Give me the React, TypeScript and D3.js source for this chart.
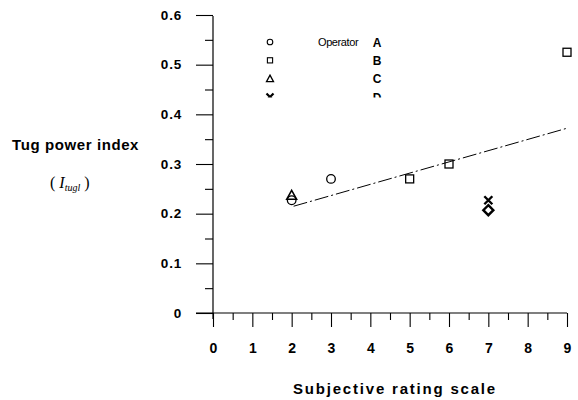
import { useRef, useEffect } from "react";
import * as d3 from "d3";

// readings per operator (subjective rating, tug power index)
const operatorA = [
  { x: 2, y: 0.227 },
  { x: 3, y: 0.27 },
];
const operatorB = [
  { x: 5, y: 0.27 },
  { x: 6, y: 0.3 },
  { x: 9, y: 0.525 },
];
const operatorC = [{ x: 2, y: 0.237 }];
const operatorDCross = [{ x: 7, y: 0.227 }];
const operatorDDiamond = [{ x: 7, y: 0.207 }];

const trendX = [2.05, 9];
const trendY = [0.215, 0.372];

const legendLabels = ["A", "B", "C", "D"];
const xTicks = [0, 1, 2, 3, 4, 5, 6, 7, 8, 9];
const yTicks = [0, 0.1, 0.2, 0.3, 0.4, 0.5, 0.6];

const W = 578;
const H = 400;
const FONT = "'Liberation Sans', Arial, sans-serif";

export default function App() {
  const svgRef = useRef<SVGSVGElement>(null);

  useEffect(() => {
    if (!svgRef.current) return;
    const svg = d3.select(svgRef.current);
    svg.selectAll("*").remove();

    const x = d3.scaleLinear().domain([0, 9]).range([213, 567]);
    const y = d3.scaleLinear().domain([0, 0.6]).range([313, 15]);

    // x axis: major ticks on integers, minor on halves
    const xMinor = d3.range(0, 9.01, 0.5).filter((v) => v % 1 !== 0);
    svg.append("g")
      .attr("transform", `translate(0,${y(0)})`)
      .call(d3.axisBottom(x).tickValues(xMinor).tickSize(7).tickFormat(() => ""))
      .call((g) => g.select(".domain").remove());
    svg.append("g")
      .attr("transform", `translate(0,${y(0)})`)
      .call(d3.axisBottom(x).tickValues(xTicks).tickSize(14).tickPadding(16).tickFormat(d3.format("d")))
      .call((g) => g.select(".domain").remove())
      .call((g) =>
        g.selectAll("text")
          .attr("font-family", FONT)
          .attr("font-weight", "bold")
          .attr("font-size", 14)
          .attr("fill", "#000")
      );

    // y axis: major ticks each 0.1, minor each 0.05
    const yMinor = d3.range(0.05, 0.6, 0.1);
    svg.append("g")
      .attr("transform", `translate(${x(0)},0)`)
      .call(d3.axisLeft(y).tickValues(yMinor).tickSize(8).tickFormat(() => ""))
      .call((g) => g.select(".domain").remove());
    svg.append("g")
      .attr("transform", `translate(${x(0)},0)`)
      .call(d3.axisLeft(y).tickValues(yTicks).tickSize(17).tickPadding(14).tickFormat((d) => (d === 0 ? "0" : d3.format(".1f")(d as number))))
      .call((g) => g.select(".domain").remove())
      .call((g) =>
        g.selectAll("text")
          .attr("font-family", FONT)
          .attr("font-weight", "bold")
          .attr("font-size", 13.5)
          .attr("letter-spacing", 0.8)
          .attr("fill", "#000")
      );

    svg.selectAll(".tick line").attr("stroke", "#000").attr("stroke-width", 1.1);

    // axis lines
    svg.append("line")
      .attr("x1", x(0)).attr("x2", x(0))
      .attr("y1", y(0) + 6).attr("y2", y(0.6) + 1)
      .attr("stroke", "#000").attr("stroke-width", 1.2);
    svg.append("line")
      .attr("x1", x(0) - 17).attr("x2", x(9))
      .attr("y1", y(0)).attr("y2", y(0))
      .attr("stroke", "#000").attr("stroke-width", 1.2);

    // trend line
    svg.append("line")
      .attr("x1", x(trendX[0])).attr("y1", y(trendY[0]))
      .attr("x2", x(trendX[1])).attr("y2", y(trendY[1]))
      .attr("stroke", "#000").attr("stroke-width", 1)
      .attr("stroke-dasharray", "14,3,2,3");

    const mark = "#000";
    const pts = svg.append("g");
    pts.selectAll("circle.a").data(operatorA).join("circle")
      .attr("cx", (d) => x(d.x)).attr("cy", (d) => y(d.y)).attr("r", 4.3)
      .attr("fill", "none").attr("stroke", mark).attr("stroke-width", 1.3);
    pts.selectAll("rect.b").data(operatorB).join("rect")
      .attr("x", (d) => x(d.x) - 4).attr("y", (d) => y(d.y) - 4)
      .attr("width", 8).attr("height", 8)
      .attr("fill", "none").attr("stroke", mark).attr("stroke-width", 1.3);
    pts.selectAll("path.c").data(operatorC).join("path")
      .attr("transform", (d) => `translate(${x(d.x)},${y(d.y)})`)
      .attr("d", "M0,-5L5,4L-5,4Z")
      .attr("fill", "none").attr("stroke", mark).attr("stroke-width", 1.5);
    pts.selectAll("path.dx").data(operatorDCross).join("path")
      .attr("transform", (d) => `translate(${x(d.x)},${y(d.y)})`)
      .attr("d", "M-4,-4L4,4M4,-4L-4,4")
      .attr("fill", "none").attr("stroke", mark).attr("stroke-width", 2.4);
    pts.selectAll("path.dd").data(operatorDDiamond).join("path")
      .attr("transform", (d) => `translate(${x(d.x)},${y(d.y)})`)
      .attr("d", "M0,-5L5,0L0,5L-5,0Z")
      .attr("fill", "none").attr("stroke", mark).attr("stroke-width", 2.4);

    // legend (last row is cut off in the source figure)
    svg.append("clipPath").attr("id", "legclip")
      .append("rect").attr("x", 250).attr("y", 30).attr("width", 150).attr("height", 67.5);
    const leg = svg.append("g").attr("clip-path", "url(#legclip)");
    const rowY = d3.scalePoint<string>().domain(legendLabels).range([42, 97]);
    const sx = 270;
    leg.append("circle").attr("cx", sx).attr("cy", rowY("A")!).attr("r", 2.8)
      .attr("fill", "none").attr("stroke", mark).attr("stroke-width", 1.1);
    leg.append("rect").attr("x", sx - 2.6).attr("y", rowY("B")! - 2.6).attr("width", 5.2).attr("height", 5.2)
      .attr("fill", "none").attr("stroke", mark).attr("stroke-width", 1.1);
    leg.append("path").attr("transform", `translate(${sx},${rowY("C")!})`)
      .attr("d", "M0,-3.5L3.5,3L-3.5,3Z")
      .attr("fill", "none").attr("stroke", mark).attr("stroke-width", 1.3);
    leg.append("path").attr("transform", `translate(${sx},${rowY("D")!})`)
      .attr("d", "M-3.5,-3.5L3.5,3.5M3.5,-3.5L-3.5,3.5")
      .attr("fill", "none").attr("stroke", mark).attr("stroke-width", 2.2);
    leg.append("text").attr("x", 318).attr("y", rowY("A")! + 4)
      .attr("font-family", FONT).attr("font-size", 11).attr("letter-spacing", -0.4)
      .text("Operator");
    leg.selectAll("text.lab").data(legendLabels).join("text")
      .attr("class", "lab")
      .attr("x", 377).attr("y", (d) => rowY(d)! + 4.5)
      .attr("text-anchor", "middle")
      .attr("font-family", FONT).attr("font-weight", "bold").attr("font-size", 12)
      .text((d) => d);

    // titles
    svg.append("text").attr("x", 12).attr("y", 150)
      .attr("font-family", FONT).attr("font-weight", "bold").attr("font-size", 15)
      .attr("letter-spacing", 0.6)
      .text("Tug power index");
    const sub = svg.append("text").attr("x", 50).attr("y", 188)
      .attr("font-family", "'Liberation Serif', 'DejaVu Serif', serif").attr("font-size", 16);
    sub.append("tspan").text("( ");
    sub.append("tspan").attr("font-style", "italic").text("I");
    sub.append("tspan").attr("font-style", "italic").attr("font-size", 10).attr("dy", 3).text("tugl");
    sub.append("tspan").attr("dy", -3).text(" )");

    svg.append("text").attr("x", 395).attr("y", 394)
      .attr("text-anchor", "middle")
      .attr("font-family", FONT).attr("font-weight", "bold").attr("font-size", 15)
      .attr("letter-spacing", 1.8)
      .text("Subjective rating scale");
  }, []);

  return (
    <svg
      ref={svgRef}
      width={W}
      height={H}
      viewBox={`0 0 ${W} ${H}`}
      style={{ position: "absolute", left: 0, top: 0, background: "#fff" }}
    />
  );
}
